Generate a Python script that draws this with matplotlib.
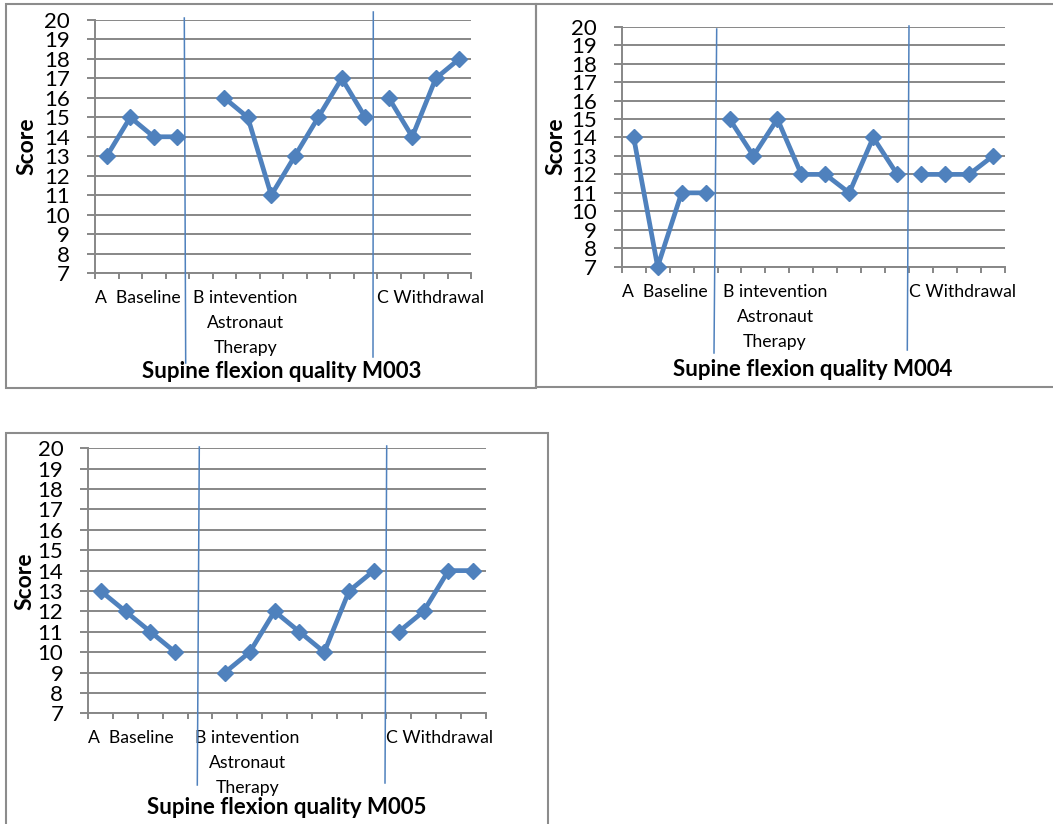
import numpy as np
import matplotlib.pyplot as plt
from matplotlib.patches import Rectangle
from matplotlib.lines import Line2D
from matplotlib.transforms import blended_transform_factory

plt.rcParams['font.family'] = ['Lato', 'DejaVu Sans']

# Session scores (16 sessions, nan = no session recorded)
sessions = np.arange(16)
m003 = [13, 15, 14, 14, np.nan, 16, 15, 11, 13, 15, 17, 15, 16, 14, 17, 18]
m004 = [14, 7, 11, 11, 15, 13, 15, 12, 12, 11, 14, 12, 12, 12, 12, 13]
m005 = [13, 12, 11, 10, np.nan, 9, 10, 12, 11, 10, 13, 14, 11, 12, 14, 14]

# phases: baseline, intervention, withdrawal
phase_slices = [slice(0, 4), slice(4, 12), slice(12, 16)]
phase_labels = ["A  Baseline", "B intevention\nAstronaut\nTherapy", "C Withdrawal"]
titles = ["Supine flexion quality M003", "Supine flexion quality M004",
          "Supine flexion quality M005"]
y_ticks = list(range(7, 21))

W, H = 1053, 824
BLUE = '#4F81BD'
GRID = '#878787'

# pixel layout for each panel
panels = [
    dict(data=m003, title=titles[0], ax=(95, 471, 20, 273), box=(6, 4, 536, 388),
         label_y=290, title_xy=(282, 371), score_xy=(27, 146),
         vlines=[((184.3, 18), (185.7, 363)), ((373.3, 12), (373.0, 357))]),
    dict(data=m004, title=titles[1], ax=(621.7, 1005, 26.7, 266.7), box=(536, 4, 1062, 387),
         label_y=284, title_xy=(813, 370), score_xy=(556, 146),
         vlines=[((716.7, 29), (714.0, 353)), ((909.0, 26), (907.3, 350))]),
    dict(data=m005, title=titles[2], ax=(88.3, 485.7, 448.3, 713.3), box=(6, 433, 548, 830),
         label_y=730, title_xy=(287, 808), score_xy=(25, 581),
         vlines=[((199.3, 447), (197.3, 785)), ((386.7, 446), (385.0, 783))]),
]


def fx(x):
    return x / W


def fy(y):
    return 1 - y / H


fig = plt.figure(figsize=(W / 100, H / 100), dpi=100)

for p in panels:
    x0, x1, y0, y1 = p['ax']
    ax = fig.add_axes([fx(x0), fy(y1), (x1 - x0) / W, (y1 - y0) / H])
    vals = np.array(p['data'], dtype=float)
    for sl in phase_slices:
        ax.plot(sessions[sl], vals[sl], color=BLUE, lw=3.4, marker='D', ms=8.5,
                mec=BLUE, mfc=BLUE, clip_on=False, zorder=3)

    ax.set_xlim(-0.5, 15.5)
    ax.set_ylim(7, 20)
    ax.set_yticks(y_ticks)
    ax.set_xticks(np.arange(-0.5, 16, 1))
    ax.set_xticklabels([])
    ax.grid(axis='y', color=GRID, lw=1.4)
    ax.set_axisbelow(True)
    for s in ['top', 'right']:
        ax.spines[s].set_visible(False)
    for s in ['left', 'bottom']:
        ax.spines[s].set_color(GRID)
        ax.spines[s].set_linewidth(1.4)
    ax.tick_params(axis='y', length=6, width=1.4, color=GRID, pad=12, labelsize=16)
    ax.tick_params(axis='x', length=4.5, width=1.4, color=GRID)

    # phase labels under the category axis
    ly = fy(p['label_y'])
    tr = blended_transform_factory(ax.transData, fig.transFigure)
    ax.text(-0.5, ly, phase_labels[0], transform=tr, ha='left', va='top', fontsize=12.7)
    ax.text(5.9, ly, phase_labels[1], transform=tr, ha='center', va='top',
            fontsize=12.7, linespacing=1.68, multialignment='center')
    ax.text(11.5, ly, phase_labels[2], transform=tr, ha='left', va='top', fontsize=12.7)

    fig.text(fx(p['title_xy'][0]), fy(p['title_xy'][1]), p['title'], ha='center',
             va='center', fontsize=16, fontweight='bold')
    fig.text(fx(p['score_xy'][0]), fy(p['score_xy'][1]), "Score", ha='center',
             va='center', rotation=90, fontsize=16.5, fontweight='bold')

    # phase change lines
    for (xa, ya), (xb, yb) in p['vlines']:
        fig.add_artist(Line2D([fx(xa), fx(xb)], [fy(ya), fy(yb)], color=BLUE, lw=1.1))

    bx0, by0, bx1, by1 = p['box']
    fig.add_artist(Rectangle((fx(bx0), fy(by1)), (bx1 - bx0) / W, (by1 - by0) / H,
                             fill=False, ec='#8c8c8c', lw=1.5))

fig.savefig('out.png', dpi=100)
